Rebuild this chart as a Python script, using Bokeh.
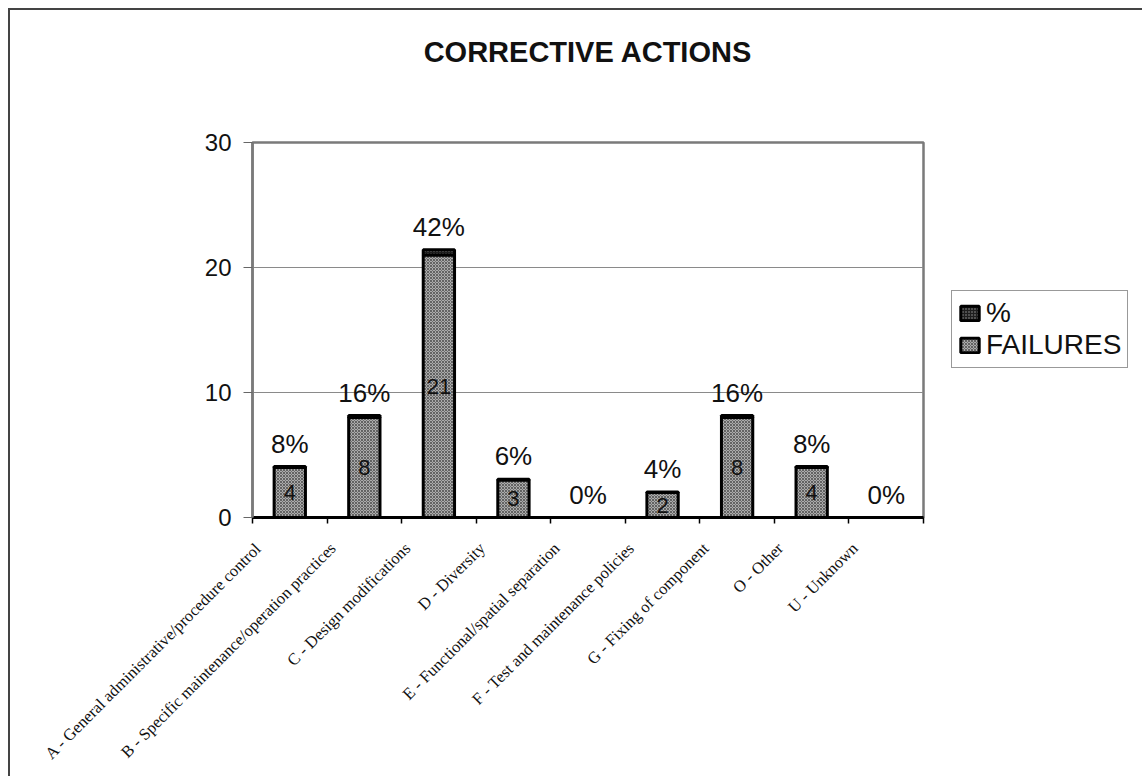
import math
from bokeh.plotting import figure
from bokeh.models import (ColumnDataSource, Range1d, FixedTicker, Legend, LegendItem,
                          Title, InlineStyleSheet)
from bokeh.core.properties import value
from bokeh.embed import file_html
from bokeh.resources import INLINE

# ---- data ----
categories = [
    "A - General administrative/procedure control",
    "B - Specific maintenance/operation practices",
    "C - Design modifications",
    "D - Diversity",
    "E - Functional/spatial separation",
    "F - Test and maintenance policies",
    "G - Fixing of component",
    "O - Other",
    "U - Unknown",
]
failures = [4, 8, 21, 3, 0, 2, 8, 4, 0]
percent = [0.08, 0.16, 0.42, 0.06, 0.00, 0.04, 0.16, 0.08, 0.00]
y_ticks = [0, 10, 20, 30]
title_text = "CORRECTIVE ACTIONS"
series_names = ["%", "FAILURES"]

# ---- derived ----
n = len(categories)
xs = [i + 0.5 for i in range(n)]
tops = [f + p for f, p in zip(failures, percent)]
pct_text = [f"{round(p * 100)}%" for p in percent]
fail_text = [str(f) if f > 0 else "" for f in failures]
fail_mid = [f / 2 for f in failures]

src = ColumnDataSource(dict(x=xs, failures=failures, top=tops, zero=[0] * n,
                            pct_text=pct_text, fail_text=fail_text, fail_mid=fail_mid))

SANS = "Liberation Sans"
SERIF = "Liberation Serif"

p = figure(frame_width=671, frame_height=375, output_backend="svg", toolbar_location=None,
           x_range=Range1d(0, n), y_range=Range1d(0, 30),
           min_border_left=252, min_border_right=219, min_border_top=142,
           min_border_bottom=259)
p.background_fill_color = "white"
p.border_fill_color = "white"
p.outline_line_color = "#7a7a7a"
p.outline_line_width = 2.5

# bars
r_fail = p.vbar(x="x", bottom="zero", top="failures", width=0.42, source=src,
                fill_color="#ababab", hatch_pattern="diagonal_cross", hatch_color="#444444",
                hatch_scale=3, hatch_weight=0.7, line_color="black", line_width=3)
r_pct = p.vbar(x="x", bottom="failures", top="top", width=0.42, source=src,
               fill_color="#1e1e1e", hatch_pattern="dot", hatch_color="#9a9a9a",
               hatch_scale=3, line_color="black", line_width=3)

# labels
p.text(x="x", y="top", text="pct_text", source=src, text_font=value(SANS),
       text_font_size="26px", text_align="center", text_baseline="bottom",
       y_offset=-8, text_color="#111111")
p.text(x="x", y="fail_mid", text="fail_text", source=src, text_font=value(SANS),
       text_font_size="22px", text_align="center", text_baseline="middle",
       text_color="#111111")

# axes
LABEL_SHIFT = 0.42
label_ticks = [x - LABEL_SHIFT for x in xs]
xa = p.xaxis[0]
xa.ticker = FixedTicker(ticks=label_ticks, minor_ticks=list(range(n + 1)))
xa.major_label_overrides = {t: c for t, c in zip(label_ticks, categories)}
xa.major_label_orientation = math.pi / 4
xa.major_label_text_font = SERIF
xa.major_label_text_font_size = "16.5px"
xa.major_label_text_color = "#111111"
xa.major_label_standoff = 22
xa.major_tick_line_color = None
xa.minor_tick_line_color = "black"
xa.minor_tick_out = 6
xa.minor_tick_in = 0
xa.minor_tick_line_width = 1.5
xa.axis_line_color = "black"
xa.axis_line_width = 3

ya = p.yaxis[0]
ya.ticker = FixedTicker(ticks=y_ticks, minor_ticks=[])
ya.major_label_text_font = SANS
ya.major_label_text_font_size = "24px"
ya.major_label_text_color = "#111111"
ya.major_label_standoff = 12
ya.major_tick_out = 9
ya.major_tick_in = 0
ya.major_tick_line_color = "#666666"
ya.axis_line_color = "#7a7a7a"
ya.axis_line_width = 2.5

p.xgrid.grid_line_color = None
p.ygrid.ticker = FixedTicker(ticks=[10, 20])
p.ygrid.grid_line_color = "#8a8a8a"
p.ygrid.grid_line_width = 1

# legend
legend = Legend(items=[LegendItem(label=series_names[0], renderers=[r_pct]),
                       LegendItem(label=series_names[1], renderers=[r_fail])],
                location=(28, 149))
legend.label_text_font = SANS
legend.label_text_font_size = "28px"
legend.label_text_color = "#111111"
legend.glyph_width = 23
legend.glyph_height = 18
legend.label_standoff = 5
legend.padding = 6
legend.spacing = 0
legend.margin = 0
legend.border_line_color = "#333333"
legend.border_line_width = 1
legend.background_fill_color = "white"
p.add_layout(legend, "right")

# title (a blank spacer title sits between the real title and the plot frame)
spacer = Title(text=" ", text_font_size="10px", standoff=62)
p.add_layout(spacer, "above")
title = Title(text=title_text, align="center", text_font=SANS,
              text_font_style="bold", text_font_size="29px", text_color="#111111",
              offset=-11, standoff=0)
p.add_layout(title, "above")

p.stylesheets = [InlineStyleSheet(css=":host::after{content:'';position:absolute;left:8px;top:8px;right:0;bottom:0;border-left:2px solid #444;border-top:2px solid #444;pointer-events:none;}")]

open("out.html", "w").write(file_html(p, INLINE))
